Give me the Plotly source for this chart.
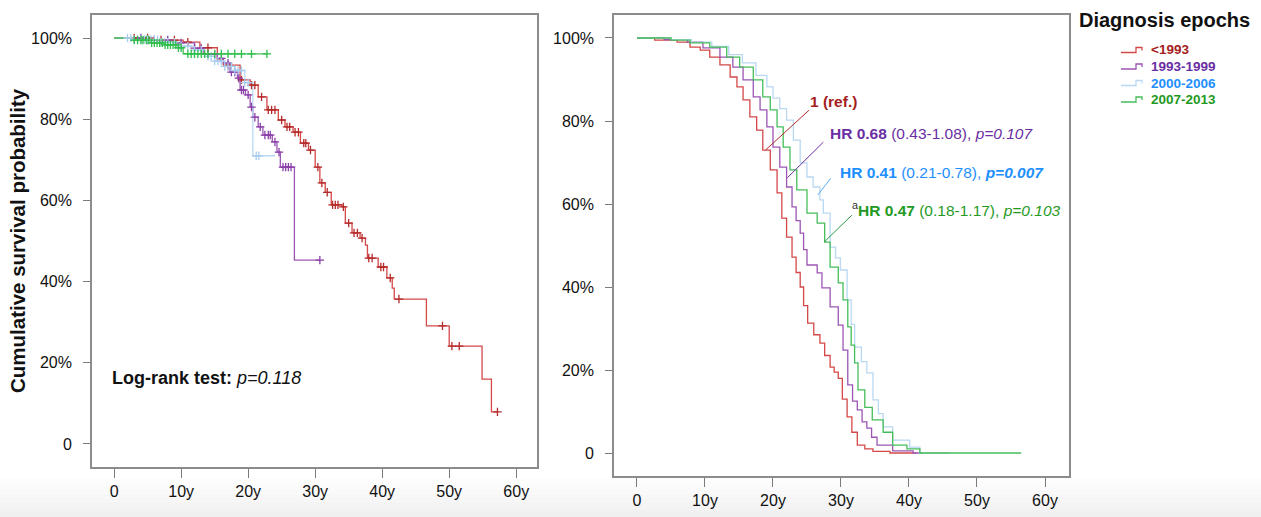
import numpy as np
import plotly.graph_objects as go

# ---------------- data ----------------
groups = ["<1993", "1993-1999", "2000-2006", "2007-2013"]
line_colors = ["#d44848", "#9c55b5", "#b9d8f2", "#45bd5a"]
mark_colors = ["#b52a2a", "#8a3fa8", "#a9cdee", "#2fbf4a"]
text_colors = ["#a51d1d", "#6a2ea3", "#1e8fff", "#1f9a1f"]

# Left panel: Kaplan-Meier steps (years, % surviving) and censor times
left_t = {
    "<1993": [0, 6, 10.3, 12.8, 15.4, 16.3, 18.8, 20.3, 21.5, 22.8, 24.5, 25.5, 26.7, 27.8, 29, 30, 30.7,
              31.5, 32.4, 34, 34.5, 35.5, 36.7, 37.5, 37.8, 39.4, 40.7, 41.5, 41.8, 46.6, 50, 54.9, 56.3, 57.2],
    "1993-1999": [0, 5, 9, 12, 13.3, 15.4, 16.3, 17.3, 18.4, 18.8, 19.6, 20.3, 20.7, 21.5, 22.2, 23.6, 24.3,
                  24.8, 26.9, 30.7],
    "2000-2006": [0, 3, 7, 10, 12, 13.5, 15, 16.5, 18, 19.5, 20.7, 24],
    "2007-2013": [0, 2.5, 5.5, 7.6, 9.5, 10.3, 22.8],
}
left_s = {
    "<1993": [100, 99.5, 99, 97.6, 94.6, 93.3, 89.7, 88.4, 85.5, 82.3, 79.8, 78.1, 76.8, 74.1, 72.4, 68.2, 64.3,
              62, 58.9, 58.4, 54.4, 52, 50.7, 49, 45.8, 43.6, 40.9, 38.4, 35.7, 29.1, 24.1, 16, 7.9, 7.9],
    "1993-1999": [100, 99.5, 98.8, 97.5, 96, 95, 93.8, 91.6, 90.1, 87.2, 86, 83, 80.5, 78.1, 76.1, 74.4, 71.9,
                  68.2, 45.3, 45.3],
    "2000-2006": [100, 99.6, 99, 98, 97, 95.5, 94.3, 93, 92, 89, 71, 71],
    "2007-2013": [100, 99.5, 98.8, 98.3, 97.6, 96.1, 96.1],
}
left_censor = {
    "<1993": [3, 5, 7, 9, 11, 14, 17, 19, 20.5, 21, 22, 23, 23.5, 24, 25, 25.8, 26.2, 27, 27.5, 28.3, 28.6, 29.3,
              30.4, 31, 31.8, 32.6, 33, 33.4, 34.2, 35, 35.8, 36.3, 37, 38, 38.5, 39.8, 40.2, 41.2, 42.5, 49,
              50.4, 51.5, 57.2],
    "1993-1999": [4, 5, 6, 8, 10, 12, 13, 14, 15, 16, 17, 17.5, 18, 18.6, 19, 19.3, 20, 20.5, 21, 21.8, 22.5, 23,
                  23.3, 24, 24.6, 25.2, 25.6, 26, 26.4, 30.7],
    "2000-2006": [2, 2.5, 3, 3.5, 4, 4.5, 5, 5.5, 6, 6.5, 7, 7.5, 8, 9, 10, 11, 12, 13, 14, 14.5, 15, 15.5, 16,
                  16.5, 17, 17.5, 18, 18.5, 19, 19.5, 20, 21.2, 21.6],
    "2007-2013": [3, 3.5, 4, 4.3, 4.8, 5.2, 5.6, 6, 6.4, 6.8, 7.2, 7.6, 8, 8.4, 8.8, 9.2, 9.6, 10, 11, 11.5, 12,
                  12.5, 13, 13.5, 14, 15, 16, 17, 18, 19, 20.5, 22.8],
}

# Right panel: adjusted survival steps
right_t = {
    "<1993": [0, 2.6, 5.9, 7.8, 9.3, 10.7, 12.2, 13.7, 14.7, 15.6, 16.6, 17.6, 18.5, 19.6, 20.6, 21.3, 22.0,
              22.8, 23.4, 24.0, 24.5, 25.1, 26.0, 26.9, 27.6, 28.4, 29.0, 29.6, 30.2, 30.9, 31.6, 32.4, 33.5,
              34.7, 37.2, 41.0],
    "1993-1999": [0, 4, 7.4, 9.7, 12.2, 14.1, 15.6, 17.1, 18.1, 19.1, 20, 21, 22, 22.8, 23.4, 24, 24.5, 25,
                  26.5, 27.2, 28.4, 29.6, 30.3, 31, 31.7, 32.4, 33.1, 33.8, 34.5, 35.3, 37.6, 40.6, 42.0],
    "2000-2006": [0, 5, 8, 11, 13.5, 15.5, 17.5, 19.1, 20, 21, 22, 23, 24, 25, 25.9, 26.9, 27.4, 28.4, 29.2,
                  29.9, 30.9, 31.5, 32, 33, 33.8, 34.7, 35.5, 36.2, 37.6, 40.1, 41.6, 46.0],
    "2007-2013": [0, 5, 7.8, 10.7, 13.2, 15.1, 17.1, 18.5, 19.6, 20.6, 21.5, 22.5, 23.5, 25, 26.5, 27.6, 28.4,
                  29.6, 30.3, 31, 31.5, 32, 32.5, 33.5, 34.6, 36.2, 37.6, 39.7, 41.6, 56.5],
}
right_s = {
    "<1993": [100, 99.5, 99, 97.8, 97.1, 95.4, 93.5, 90.6, 88.2, 85.1, 81, 77.8, 73, 68.2, 62.7, 56.6, 52,
              47.2, 43.5, 40, 35.5, 31.3, 28.5, 26.5, 23.5, 20.7, 19.5, 18, 13, 8.7, 5, 1.9, 1.0, 0.4, 0, 0],
    "1993-1999": [100, 99.6, 99, 97.6, 95.4, 93, 89.9, 85.8, 82.7, 78.6, 73.7, 68.9, 64.1, 59.3, 56, 53, 49,
                  45.3, 43.4, 39.8, 35.2, 30.8, 24.8, 16.4, 12.5, 10.4, 7.5, 6, 3.8, 1.9, 0.5, 0, 0],
    "2000-2006": [100, 99.6, 99, 98, 96, 94, 91, 88.2, 85.5, 83, 80.2, 75.4, 69.9, 66.5, 64.1, 61, 57.8, 49.6,
                  47, 44.1, 36.9, 31, 25.5, 22, 19.3, 12.8, 9.5, 6.3, 3.1, 1.4, 0, 0],
    "2007-2013": [100, 99.5, 98.8, 97.8, 95.4, 93, 89.9, 85.8, 82.7, 78.6, 73.7, 68.2, 63.4, 57.8, 55.4, 50.8,
                  44.8, 41, 36.9, 30.4, 26, 21.7, 15.2, 11, 8, 5, 1.9, 1, 0, 0],
}

# Hazard-ratio labels (right panel): text, text anchor (x, y), leader line (x0, y0) -> (x1, y1)
hr_labels = [
    "<b>1 (ref.)</b>",
    "<b>HR 0.68</b> (0.43-1.08), <i>p=0.107</i>",
    "<b>HR 0.41</b> (0.21-0.78), <b><i>p=0.007</i></b>",
    "<sup><span style='color:#333333'>a</span></sup><b>HR 0.47</b> (0.18-1.17), <i>p=0.103</i>",
]
hr_text_pos = [(25.2, 84.8), (28.1, 77.1), (29.6, 67.5), (31.3, 58.8)]
hr_leaders = [((25.3, 82.6), (18.9, 73.0)), ((27.4, 74.9), (22.1, 66.3)),
              ((28.5, 66.2), (26.6, 62.2)), ((31.6, 57.3), (27.5, 50.8))]

x_ticks = [0, 10, 20, 30, 40, 50, 60]
x_ticktext = ["0", "10y", "20y", "30y", "40y", "50y", "60y"]
y_ticks = [0, 20, 40, 60, 80, 100]
y_ticktext = ["0", "20%", "40%", "60%", "80%", "100%"]

FONT = "Liberation Sans, Arial, Helvetica, sans-serif"
W, H = 1261, 517

fig = go.Figure()


def step_value(t, s, x):
    t = np.asarray(t, float)
    s = np.asarray(s, float)
    i = np.searchsorted(t, x, side="right") - 1
    return s[np.clip(i, 0, len(s) - 1)]


# left panel
for g, lc, mc in zip(groups, line_colors, mark_colors):
    fig.add_trace(go.Scatter(x=left_t[g], y=left_s[g], mode="lines", line=dict(color=lc, width=1.3, shape="hv"),
                             xaxis="x", yaxis="y", showlegend=False, hoverinfo="skip"))
for g, lc, mc in zip(groups, line_colors, mark_colors):
    ct = np.asarray(left_censor[g], float)
    fig.add_trace(go.Scatter(x=ct, y=step_value(left_t[g], left_s[g], ct), mode="markers",
                             marker=dict(symbol="cross-thin", size=6, line=dict(color=mc, width=1.3)),
                             xaxis="x", yaxis="y", showlegend=False, hoverinfo="skip"))

# right panel
for g, lc in zip(groups, line_colors):
    fig.add_trace(go.Scatter(x=right_t[g], y=right_s[g], mode="lines", line=dict(color=lc, width=1.3, shape="hv"),
                             xaxis="x2", yaxis="y2", showlegend=False, hoverinfo="skip"))

axis_common = dict(showline=True, linecolor="#8c8c8c", linewidth=1.6, mirror=True, showgrid=False,
                   zeroline=False, ticks="outside", tickcolor="#7a7a7a", tickwidth=1.3,
                   tickfont=dict(family=FONT, size=16, color="#111111"))

fig.update_layout(
    width=W, height=H, margin=dict(l=0, r=0, t=0, b=0),
    paper_bgcolor="white", plot_bgcolor="rgba(0,0,0,0)",
    xaxis=dict(domain=[92 / W, 537 / W], range=[-3.3, 63.1], tickvals=x_ticks, ticktext=x_ticktext,
               ticklen=9, ticklabelstandoff=0, anchor="y", **axis_common),
    yaxis=dict(domain=[1 - 467 / H, 1 - 15 / H], range=[-5.67, 105.67], tickvals=y_ticks, ticktext=y_ticktext,
               ticklen=7, ticklabelstandoff=8, anchor="x", **axis_common),
    xaxis2=dict(domain=[614 / W, 1069 / W], range=[-3.38, 63.53], tickvals=x_ticks, ticktext=x_ticktext,
                ticklen=9, ticklabelstandoff=0, anchor="y2", **axis_common),
    yaxis2=dict(domain=[1 - 476 / H, 1 - 15 / H], range=[-5.54, 105.54], tickvals=y_ticks, ticktext=y_ticktext,
                ticklen=7, ticklabelstandoff=8, anchor="x2", **axis_common),
)

annotations = []
shapes = []

# bottom grey gradient (screen shading)
n_band = 10
for i in range(n_band):
    y0 = (H - 478) / H * (1 - i / n_band)
    y1 = (H - 478) / H * (1 - (i + 1) / n_band)
    g = int(255 - 15 * (i + 1) / n_band)
    shapes.append(dict(type="rect", xref="paper", yref="paper", x0=0, x1=1, y0=y1, y1=y0,
                       fillcolor=f"rgb({g},{g},{g})", line=dict(width=0), layer="below"))

# y axis title
annotations.append(dict(text="<b>Cumulative survival probability</b>", xref="paper", yref="paper",
                        x=17 / W, y=1 - 241 / H, textangle=-90, showarrow=False,
                        font=dict(family=FONT, size=20.5, color="#111111"), xanchor="center", yanchor="middle"))

# log-rank text
annotations.append(dict(text="<b>Log-rank test:</b> <i>p=0.118</i>", xref="x", yref="y", x=-0.6, y=16.3,
                        showarrow=False, xanchor="left", yanchor="middle",
                        font=dict(family=FONT, size=18, color="#111111")))

# HR labels + leader lines
for txt, (tx, ty), ((x0, y0), (x1, y1)), tc, lc in zip(hr_labels, hr_text_pos, hr_leaders, text_colors,
                                                         ["#b22a2a", "#6a2ea3", "#5aaef5", "#2a9a4a"]):
    annotations.append(dict(text=txt, xref="x2", yref="y2", x=tx, y=ty, showarrow=False, xanchor="left",
                            yanchor="middle", font=dict(family=FONT, size=15.5, color=tc)))
    shapes.append(dict(type="line", xref="x2", yref="y2", x0=x0, y0=y0, x1=x1, y1=y1,
                       line=dict(color=lc, width=1)))

# custom legend
annotations.append(dict(text="<b>Diagnosis epochs</b>", xref="paper", yref="paper", x=1077 / W, y=1 - 20 / H,
                        showarrow=False, xanchor="left", yanchor="middle",
                        font=dict(family=FONT, size=20, color="#111111")))
row_y = [50, 66.5, 83, 99.5]
for g, lc, tc, yc in zip(groups, line_colors, text_colors, row_y):
    annotations.append(dict(text=f"<b>{g.replace('<', '&lt;')}</b>", xref="paper", yref="paper",
                            x=1149 / W, y=1 - yc / H, showarrow=False, xanchor="left", yanchor="middle",
                            font=dict(family=FONT, size=13.5, color=tc)))
    pts = [(1121, yc + 2.5), (1136, yc + 2.5), (1136, yc - 2.5), (1142, yc - 2.5), (1142, yc + 0.5)]
    path = "M " + " L ".join(f"{px / W:.5f},{1 - py / H:.5f}" for px, py in pts)
    shapes.append(dict(type="path", xref="paper", yref="paper", path=path, line=dict(color=lc, width=1.3)))

fig.update_layout(annotations=annotations, shapes=shapes)
fig.write_html("out.html", config={"displayModeBar": False},
               post_script="document.body.style.margin='0';document.body.style.padding='0';"
                           "document.body.style.overflow='hidden';")
